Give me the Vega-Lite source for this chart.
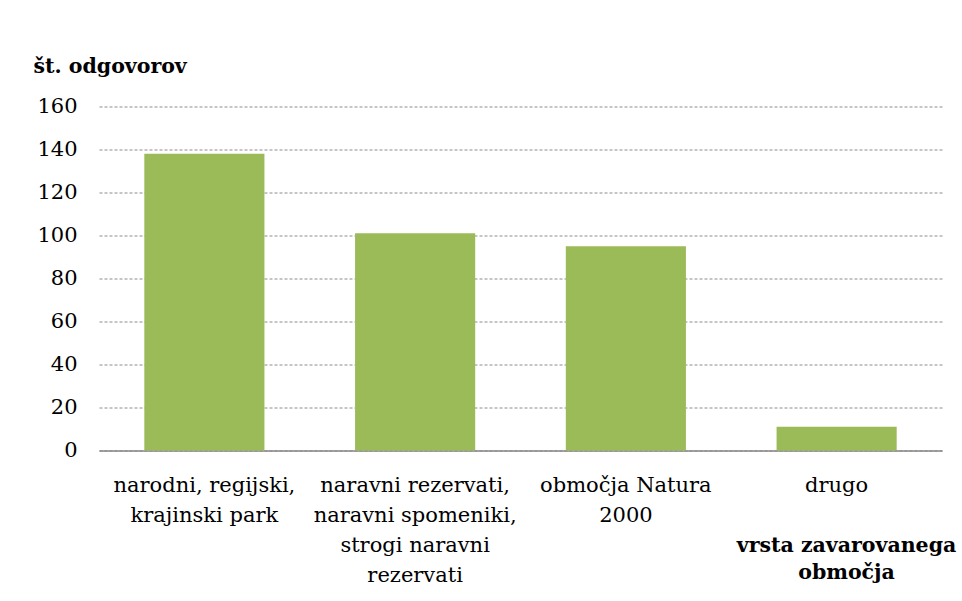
{
  "$schema": "https://vega.github.io/schema/vega-lite/v6.json",
  "autosize": "none",
  "width": 843,
  "height": 344,
  "padding": {"left": 99, "top": 106.5, "right": 20, "bottom": 150},
  "background": "white",
  "config": {
    "view": {"stroke": null},
    "font": "DejaVu Serif"
  },
  "data": {
    "values": [
      {"kategorija": "narodni, regijski, krajinski park", "odgovori": 138},
      {"kategorija": "naravni rezervati, naravni spomeniki, strogi naravni rezervati", "odgovori": 101},
      {"kategorija": "območja Natura 2000", "odgovori": 95},
      {"kategorija": "drugo", "odgovori": 11}
    ]
  },
  "mark": {"type": "bar", "color": "#9BBB59"},
  "encoding": {
    "x": {
      "field": "kategorija",
      "type": "nominal",
      "sort": null,
      "scale": {"paddingInner": 0.43, "paddingOuter": 0.215},
      "axis": {
        "title": ["vrsta zavarovanega", "območja"],
        "titleFont": "DejaVu Serif",
        "titleColor": "black",
        "titleFontSize": 20.5,
        "titleFontWeight": "bold",
        "titleAlign": "center",
        "titleAnchor": null,
        "titleBaseline": "alphabetic",
        "titleX": 747,
        "titleY": 101,
        "titleLineHeight": 27,
        "labelAngle": 0,
        "labelFont": "DejaVu Serif",
        "labelColor": "black",
        "labelFontSize": 21,
        "labelPadding": 24,
        "labelBaseline": "top",
        "labelLineHeight": 30,
        "labelExpr": "datum.value == 'narodni, regijski, krajinski park' ? ['narodni, regijski,', 'krajinski park'] : datum.value == 'naravni rezervati, naravni spomeniki, strogi naravni rezervati' ? ['naravni rezervati,', 'naravni spomeniki,', 'strogi naravni', 'rezervati'] : datum.value == 'območja Natura 2000' ? ['območja Natura', '2000'] : datum.value",
        "labelLimit": 300,
        "ticks": false,
        "domain": true,
        "domainColor": "#868686",
        "domainWidth": 1.5
      }
    },
    "y": {
      "field": "odgovori",
      "type": "quantitative",
      "scale": {"domain": [0, 160], "nice": false},
      "axis": {
        "title": "št. odgovorov",
        "titleFont": "DejaVu Serif",
        "titleColor": "black",
        "titleAngle": 0,
        "titleFontSize": 20.5,
        "titleFontWeight": "bold",
        "titleAlign": "left",
        "titleAnchor": null,
        "titleBaseline": "alphabetic",
        "titleX": -66,
        "titleY": -34.5,
        "values": [0, 20, 40, 60, 80, 100, 120, 140, 160],
        "labelFont": "DejaVu Serif",
        "labelColor": "black",
        "labelFontSize": 21,
        "labelPadding": 22,
        "ticks": false,
        "domain": false,
        "grid": true,
        "gridColor": "#8c8c8c",
        "gridDash": [3, 2],
        "gridWidth": 1
      }
    }
  }
}
